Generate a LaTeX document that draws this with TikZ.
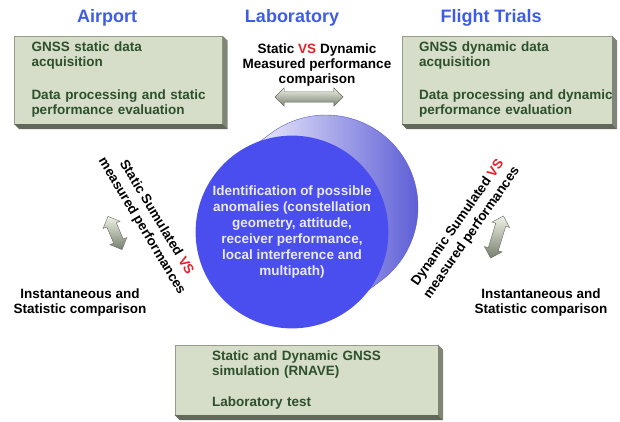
\documentclass[tikz,border=0pt]{standalone}
\usepackage{fontspec}
\setmainfont{Liberation Sans}
\usepackage{tikz}
\usetikzlibrary{shapes,arrows,calc}
\definecolor{titleblue}{RGB}{62,92,228}
\definecolor{boxface}{RGB}{214,221,200}
\definecolor{boxedge}{RGB}{150,156,140}
\definecolor{boxright}{RGB}{128,134,118}
\definecolor{boxbottom}{RGB}{98,104,90}
\definecolor{boxtext}{RGB}{45,80,45}
\definecolor{vsred}{RGB}{228,32,40}
\definecolor{discblue}{RGB}{74,78,238}
\definecolor{disctext}{RGB}{232,232,255}
\definecolor{sidelight}{RGB}{250,250,255}
\definecolor{sidemid}{RGB}{172,172,236}
\definecolor{sideblue}{RGB}{84,84,212}
\definecolor{siderim}{RGB}{92,92,200}
\definecolor{arrowlight}{RGB}{238,242,228}
\definecolor{arrowdark}{RGB}{120,128,112}
\definecolor{arrowedge}{RGB}{100,106,94}
\tikzstyle{heading} = [font=\fontsize{18}{21}\selectfont\bfseries, text=titleblue, text height=13pt, text depth=4pt]
\tikzstyle{block} = [draw=boxedge, fill=boxface, rectangle, text=boxtext, align=left, text width=174pt, inner xsep=17pt, minimum height=88pt, font=\fontsize{13.5}{15}\selectfont\bfseries]
\tikzstyle{remark} = [align=center, font=\fontsize{13.5}{15}\selectfont\bfseries]
\tikzstyle{twoway} = [double arrow, draw=arrowedge, top color=arrowlight, bottom color=arrowdark, inner xsep=0pt, inner ysep=5pt, double arrow head extend=4pt]
\tikzstyle{disc} = [circle, fill=discblue, text=disctext, minimum size=184pt, align=center, font=\fontsize{13.5}{16}\selectfont\bfseries]

\begin{document}
\begin{tikzpicture}[x=1pt, y=1pt]
        \useasboundingbox (0,0) rectangle (620,421);
        % column headings
        \node[heading] (airport) at (107,403) {Airport};
        \node[heading, right of=airport, node distance=185pt] (lab) {Laboratory};
        \node[heading, right of=lab, node distance=199pt] (flight) {Flight Trials};
        % data boxes
        \node[block] (airbox) at (118.5,341) {GNSS static data\\ acquisition\\[18pt] \mbox{Data processing and static}\\ performance evaluation};
        \node[block, text width=176pt, inner xsep=17pt] (flightbox) at (507,341) {GNSS dynamic data\\ acquisition\\[18pt] \mbox{Data processing and dynamic}\\ performance evaluation};
        \node[block, text width=189pt, inner xsep=37pt, minimum height=70pt] (simbox) at (306.5,41) {Static and Dynamic GNSS\\ simulation (RNAVE)\\[16pt] Laboratory test};
        \foreach \b in {airbox, flightbox, simbox} {
            \fill[boxright] (\b.north east) -- ++(5,-5) -- ($(\b.south east)+(5,-5)$) -- (\b.south east) -- cycle;
            \fill[boxbottom] (\b.south west) -- ++(5,-5) -- ($(\b.south east)+(5,-5)$) -- (\b.south east) -- cycle;
        }
        % laboratory comparison
        \node[remark] (labnote) at (317,356) {Static \textcolor{vsred}{VS} Dynamic\\ Measured performance\\ comparison};
        \node[twoway, minimum height=68pt] (labarrow) at (309,324) {};
        % cylinder
        \coordinate (front) at (292,189);
        \coordinate (back) at ($(front)+(34,25)$);
        \shade[left color=sidelight, middle color=sidemid, right color=sideblue, draw=siderim, line width=0.4pt]
            ($(front)+(126.3:92)$) -- ($(back)+(126.3:92)$) arc[start angle=126.3, end angle=-53.7, radius=92] -- ($(front)+(-53.7:92)$) -- cycle;
        \node[disc] (disc) at (front) {Identification of possible\\ anomalies (constellation\\ geometry, attitude,\\ receiver performance,\\ local interference and\\ multipath)};
        % static side
        \node[remark, font=\fontsize{13.5}{17}\selectfont\bfseries, rotate=-59] (statnote) at (149,199) {Static Sumulated \textcolor{vsred}{VS}\\ measured performances};
        \node[twoway, minimum height=36pt, rotate=-67] (statarrow) at (115,188) {};
        \node[remark] (statcmp) at (80,118.5) {Instantaneous and\\ Statistic comparison};
        % dynamic side
        \node[remark, font=\fontsize{13.5}{17}\selectfont\bfseries, rotate=55] (dynnote) at (465,193) {Dynamic Sumulated \textcolor{vsred}{VS}\\ measured performances};
        \node[twoway, minimum height=44pt, rotate=73] (dynarrow) at (497,184) {};
        \node[remark] (dyncmp) at (541,118.5) {Instantaneous and\\ Statistic comparison};
    \end{tikzpicture}
\end{document}
